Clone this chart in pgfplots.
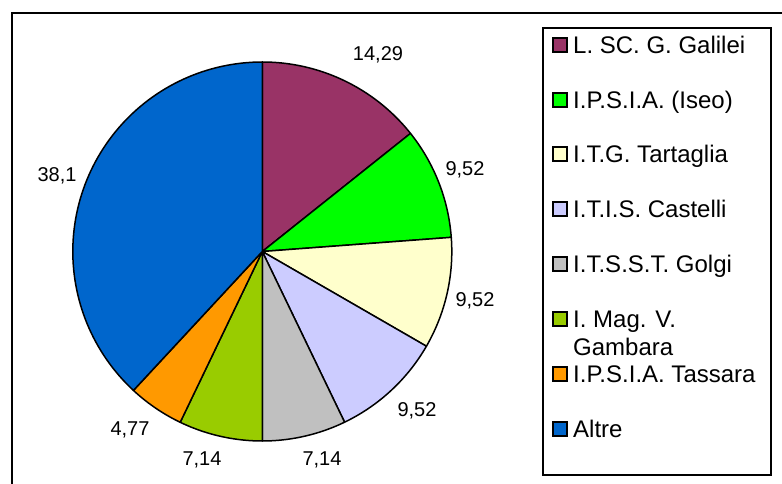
\documentclass[border=0pt]{standalone}
\usepackage{pgfplots}
\pgfplotsset{compat=1.18}
\usepackage{fontspec}
\setmainfont{Liberation Sans}
\definecolor{cGalilei}{HTML}{993366}
\definecolor{cIseo}{HTML}{00FF00}
\definecolor{cTartaglia}{HTML}{FFFFCC}
\definecolor{cCastelli}{HTML}{CCCCFF}
\definecolor{cGolgi}{HTML}{C0C0C0}
\definecolor{cGambara}{HTML}{99CC00}
\definecolor{cTassara}{HTML}{FF9900}
\definecolor{cAltre}{HTML}{0066CC}
% pie geometry (picture units = px of the reference)
\def\cx{262.3}
\def\cy{232.5}
\def\rr{189.5}
\def\startang{90}
\newcommand\slice[2]{% #1 colour, #2 value (percent)
  \pgfmathsetmacro\endang{\startang-3.6*#2}%
  \edef\temp{\noexpand\addplot[fill=#1, draw=black, line width=1.5pt, line join=round,
      domain=\endang:\startang, samples=90]
      ({\cx+\rr*cos(x)},{\cy+\rr*sin(x)}) -- (axis cs:\cx,\cy) -- cycle;}%
  \temp
  \global\let\startang\endang}
\newcommand\legentry[3]{% #1 colour, #2 image y of centre, #3 text
  \draw[fill=#1, line width=1.5pt] (axis cs:553,{484-#2-7}) rectangle (axis cs:567,{484-#2+7});
  \node[anchor=base west, inner sep=0pt, font=\fontsize{24}{27.6}\selectfont]
    at (axis cs:573,{484-#2-8.6}) {#3};}
\begin{document}
\begin{tikzpicture}
\begin{axis}[
  at={(0,0)}, anchor=origin,
  x=1pt, y=1pt,
  xmin=0, xmax=782, ymin=0, ymax=484,
  hide axis, clip=false,
]
% outer frame (partly cut at right and bottom)
\draw[line width=2pt] (axis cs:12,-10) -- (axis cs:12,471) -- (axis cs:800,471);
% pie slices, clockwise from the top
\slice{cGalilei}{14.29}
\slice{cIseo}{9.52}
\slice{cTartaglia}{9.52}
\slice{cCastelli}{9.52}
\slice{cGolgi}{7.14}
\slice{cGambara}{7.14}
\slice{cTassara}{4.77}
\slice{cAltre}{38.1}
% data labels
\begin{scope}[every node/.style={font=\fontsize{20}{24}\selectfont, inner sep=0pt}]
\node at (axis cs:378,429) {14,29};
\node at (axis cs:465,314) {9,52};
\node at (axis cs:475,183) {9,52};
\node at (axis cs:417,73) {9,52};
\node at (axis cs:322,24) {7,14};
\node at (axis cs:202,24) {7,14};
\node at (axis cs:130,54) {4,77};
\node at (axis cs:57,308) {38,1};
\end{scope}
% legend
\draw[line width=2pt] (axis cs:543,456) rectangle (axis cs:771,9);
\legentry{cGalilei}{45}{L. SC. G. Galilei}
\legentry{cIseo}{100}{I.P.S.I.A. (Iseo)}
\legentry{cTartaglia}{154}{I.T.G. Tartaglia}
\legentry{cCastelli}{209}{I.T.I.S. Castelli}
\legentry{cGolgi}{264}{I.T.S.S.T. Golgi}
\legentry{cGambara}{319}{I. Mag. V.}
\node[anchor=base west, inner sep=0pt, font=\fontsize{24}{27.6}\selectfont]
  at (axis cs:573,{484-319-8.6-27.6}) {Gambara};
\legentry{cTassara}{374}{I.P.S.I.A. Tassara}
\legentry{cAltre}{429}{Altre}
\end{axis}
\pgfresetboundingbox
\useasboundingbox (0,0) rectangle (782pt,484pt);
\end{tikzpicture}
\end{document}
